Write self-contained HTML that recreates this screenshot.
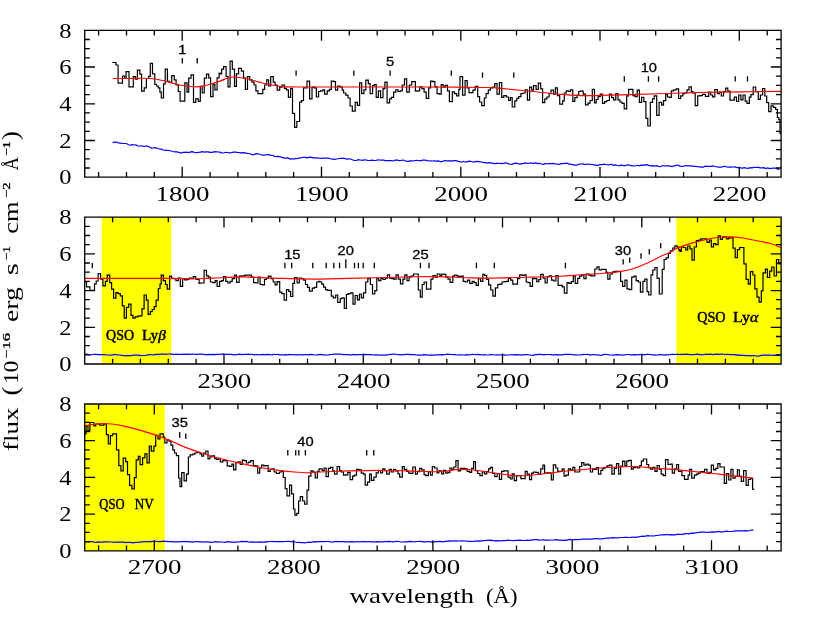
<!DOCTYPE html><html><head><meta charset="utf-8"><title>spectrum</title><style>html,body{margin:0;padding:0;background:#fff}svg{display:block;will-change:transform}</style></head><body><svg width="830" height="621" viewBox="0 0 830 621">
<rect width="830" height="621" fill="#fff"/>
<rect x="101.7" y="217.1" width="69.6" height="146.9" fill="#ff0"/>
<rect x="676.4" y="217.1" width="104.7" height="146.9" fill="#ff0"/>
<rect x="84.7" y="404" width="80" height="146.8" fill="#ff0"/>
<path d="M112.3 62.5H115.9V65H118.1V83.1H122.5V76H124.6V78.5H126.1V71.7H129V86.9H133.3V76.7H135.5V79.2H137.4V70.2H139.9V74.1H141.6V91.1H144.2V87.9H146.4V78.5H148.6V76.3H150.3V63.3H152.5V73.8H154.8V84.3H156.5V86H158.3V87.9H159.9V92.2H161.3V98H163.5V83.8H165.2V69.1H167.4V81.4H169.6V82.5H171.7V75.6H174.2V79.9H176.1V85H178.3V91.5H180.1V101.2H184.8V82.8H187V92.2H188.7V78.2H191V74.9H193.5V102.4H195.7V98.8H198.3V101.4H200.3V86.4H202.2V93H204.3V78.2H206.5V74.1H208.7V77.8H210.6V96.6H213V84.3H214.9V89.8H217.1V77.8H219.1V73H220V73.8H221.7V69.1H223.6V66.6H226.1V76.3H228V86.9H230.1V61.1H232.3V69.1H234.5V86.4H236.4V73.8H238.6V68.3H241.4V71.2H243.5V77.8H245.4V89.3H247.5V76.7H249.7V79.9H251.9V82.1H254.1V85H255.9V90.8H258V93.7H262.8V89.3H264.6V85H266.7V79.9H268.6V86H270.7V76.7H273.3V82.1H275.1V85H277.2V90.1H279.7V87.2H282V85H284.5V88.3H286.4V89.8H288.4V97.3H290.6V88.3H292.5V113.3H294.6V127.3H296.8V121.5H299.6V102.2H301.4V100.7H303.5V87.9H307V81.1H309.6V98.8H312V87.2H314.2V87.9H316.4V97H318.6V91.5H320.7V90.8H322.9V89.8H324.6V94.1H327.2V90.8H329.4V89.3H331.3V81.1H333.8V81.7H335.5V90.1H337.7V86H340V86.9H342.2V90.1H343.6V93H345.8V95.1H348V98H350.1V106H352.3V111.1H355.2V102.4H357.4V105.3H359.6V82.8H361.7V93.7H363.9V89.8H365.8V80.2H368.3V83.6H370.1V93.7H372.6V85.7H374.3V84.6H376.2V97.3H378.4V90.8H380.6V97.6H383V88.6H384.9V82.1H387.1V102.8H389.6V98.8H391.4V97.3H393.6V92.2H395.8V89.8H398V91.5H400.1V90.8H402.3V85H404.5V78.8H406.7V92.2H409.3V85H411.7V81.7H415.4V91.2H417.5V90.8H419.7V86.9H421.9V88.6H424.1V92.2H426.2V98.3H428.7V87.9H430.6V81.1H432.8V81.7H434.9V86.9H437.1V93.7H439.3V94.1H441.2V84.6H443.2V87.2H445.1V85.4H447.5V90.8H449.4V101.7H452.3V91.8H454.5V93.7H456.7V95.9H458.8V89.3H460V76.7H462.6V95.1H465.1V80.7H467.2V87.9H469V92.7H473V90.1H475.2V86.4H477.7V96.6H479.6V102H481.7V105.7H484.3V98H486.1V93.7H488.3V90.1H490.4V87.9H492.6V87.2H494.8V83.6H497V94.1H499.4V82.5H501.7V97.3H503.8V95.6H506.4V97H508.6V100.5H510.4V97.6H512.2V107H514.8V100.9H516.8V98.3H518.7V96.6H520.9V93.7H523V93H525.2V89.8H527.4V100.2H529.6V87.2H531.7V90.1H533.6V85.7H536.1V89.3H538.3V83.1H540.7V88.9H542.6V102.7H544.8V98.8H547V97H549.1V93.7H551V90.1H553.5V94.1H555.4V87.9H557.4V95.6H559.7V104.1H562.6V100.9H564.3V93H566.2V90.8H568.4V91.5H570.4V89.8H572.8V101.4H574.8V97.6H577.1V95.1H578.8V91.5H580V91.2H583.2V94.1H585.5V104.9H588V103.1H590.1V100.5H592.3V89.3H594.5V102.8H596.2V99.5H598.1V96.6H600.3V94.1H602.5V103.4H604.6V101.7H606.8V100.5H609.4V94.1H611.6V97.6H613.6V99.9H615.8V93.7H618V99.9H619.9V102H622V103.4H624.2V108.9H626.7V95.9H628.6V89.3H632.9V95.6H635.1V96.6H637.2V90.1H639.4V102.4H641.6V97.3H643.8V101.7H645.9V118.3H647.8V126H650.3V102.4H652.5V98.8H654.2V95.9H656.7V115.4H659.1V102.4H661.6V105.1H663.5V100.7H665.7V94.4H667.5V97H669.4V97.3H671.3V90.8H673.5V89.8H676.4V88.9H678.6V98.5H680.7V95.9H682.9V93.7H684.6V93H687V89.8H689V86.9H691.3V91.5H693V93H695.2V105.7H697.7V95.9H700V95.7H702.5V94.3H705.4V96.4H708.7V92.1H710.7V95H712.6V96.9H714.8V89.6H717.4V93.6H719.4V92.1H721.3V96H723.5V91.7H725.7V88.2H727.8V91.1H730V100.1H734.3V97.2H736.5V101.5H738.7V95H740.9V99.8H743V95H745.2V101.2H747V103.3H749.3V97.2H751V94.6H753.2V87H755.7V91.7H758.3V99.3H760.4V95H762.6V88.5H764.8V96H766.7V102.7H768.7V111.7H771V105.9H773.5V107.3H775.7V109.5H777.4V117.5H778.8V119.6H780V133.4H781" fill="none" stroke="#000" stroke-width="1.2" stroke-linejoin="miter"/>
<path d="M85.1 282H86.5V286.8H89.9V290.3H94.5V283.9H96.2V281H98.1V273.7H100.6V279.1H102.9V285.9H105.4V281.3H107.2V275.2H109.7V282.7H111.6V289.2H113.6V298.2H115.9V292.6H118V293.6H120.3V295.8H122.3V305.9H124.2V318.2H126.4V307.4H128.6V304.2H131V315.3H132.9V318.2H135.1V316.8H137.7V316.1H140.1V315.8H142V308.8H144.1V295H146.4V300.1H148.1V314.3H150.3V311.7H152.2V309.5H154.2V306.6H156.1V300.1H158.3V288.5H160V284.2H161.2V275.2H163.3V280.6H165.5V284.5H167.2V289.2H169.6V276.2H171.6V278.4H173.9V278.7H175.9V280.6H178.3V278.1H180.3V286.3H182.6V278.7H184.6V279.8H187.2V279.1H189.4V278.1H191.6V278.7H193.3V276.6H195.7V279.1H197.7V279.5H199.1V283.4H200V283H204.1V270.4H206.5V275.8H208.4V277.2H210.4V282H212.8V282.7H215.2V280.6H217.1V286.3H219.6V281.3H221.7V280.6H223.5V276.6H225.8V281.3H227.8V283H230.1V281.3H232.2V278.7H234.5V275.2H236.5V282.4H239.1V276.2H241.3V275.8H244.9V275.2H251.4V277.2H253.6V282.7H255.8V283H258V277.2H260.1V284.5H262.3V284.9H264.5V279.5H266.4V278.1H268.4V276.2H271V278.7H273.2V282H275.1V284.9H277.1V281.6H279.7V292.1H281.9V293.6H284.1V300.1H286.5V289.7H288.7V291.4H290.6V296.5H292.8V283.4H294.5V277.7H297.1V283H299.3V278.1H301.4V278.7H303.6V280.1H305.5V284.5H307.5V287.4H309.4V291.1H312.3V288.2H314.5V287.4H316.7V282H318.8V281.3H320V282H321.7V284.2H323.6V287.1H325.5V289.7H327.5V290.3H331.3V296.1H333.3V297.9H335.7V295H337.7V302.3H340.3V298.7H342V297.9H344.3V308.5H346.4V294.3H348.3V293.6H350.7V292.9H353V304.2H355.1V295.5H357.4V299.8H359.4V294H361.3V297.9H363.5V292.9H365.7V282H367.8V278.7H370.4V284.5H372.5V294H374.8V290.7H376.8V278.7H378.7V280.6H380.9V278.4H383V279.5H385.2V278.1H387.4V274.8H389.6V278.1H391.7V278.7H393.9V279.1H396.1V274.8H398.3V279.1H400.4V283.9H402.9V279.1H404.8V274.8H407V280.6H409.1V277.2H411V276.2H413.5V274H418.3V290H420.3V297.2H422.2V284.5H424.1V282H426.5V289.2H430.9V279.1H433V275.5H435.2V277.2H437.1V274H440V275.5H441.7V274H444.1V274.3H445.8V277.2H448V279.1H450.1V282.4H452.8V276.2H454.5V275.2H456.7V275.8H458.8V276.6H461V276.2H463.2V281.3H465.4V282H467.5V280.1H469.7V283.4H472.2V281.3H474.1V282.7H476.2V285.3H478.4V278.7H480.6V281.3H482.8V274.3H484.6V275.5H486.7V279.5H488.6V284.9H490.7V290H492.9V296.1H495.4V287.8H497.7V284.5H499.7V284.2H502V282H504.1V281.6H506.4V281.3H508.4V278.4H510.7V280.1H512.8V284.2H517.5V278.7H519.7V274.8H522.3V275.5H524.1V274.8H526.2V282H528.1V282.7H530.1V286.3H532.5V278.7H536.8V281.6H538.8V279.5H540.7V274.3H543.2V278.1H545.1V283H547.2V276.6H549.4V275.8H551.6V280.1H553.8V281H555.9V275.5H558.1V285.3H560V285.3H562.2V286.8H564.3V293.2H567V282.7H569V283.4H571.3V281.6H573.3V276.2H575.2V283.4H577.7V278.4H579.6V276.2H581.7V274.8H583.9V278.7H586.1V274H588.7V275.2H590.7V275.8H594.8V269H597V266.8H599.1V270H601.3V269.4H606.1V272.3H607.8V279.1H610V274H612.5V271.9H615.1V271.4H620.6V281.3H622.6V286.3H624.9V280.1H627V288.8H629.3V289.7H631.7V277.2H633.9V276.2H636.1V280.6H638.3V282H640.4V292.1H642.9V281.3H644.8V279.1H647V291.7H648.7V295H651V274.8H652.8V270H654.9V267.5H657.1V278.4H659.3V294H662.2V269.4H664.1V259.5H666.1V257.8H668.4V253.4H670.4V250.8H672.8V248.2H674.8V245.8H677.1V247.2H678.8V250.1H680V251.4H681.3V247H683.3V247.5H685.7V249.9H687.7V246H690V248.9H692V260.2H694.3V247H696.4V240.7H698.7V240.2H700.7V238.8H707V242.4H709.4V240.2H711.3V247H713.5V243.6H715.7V244.6H718.1V235.9H720.4V239.5H722.5V236.9H726.5V238.8H728.7V237.8H733V248.2H735.2V257.6H737.4V249.6H739.6V247.5H743.9V263.8H746.1V279.3H748.3V284.1H750.4V271.7H752.9V275H754.8V288.8H757V297.2H759.1V302.1H761.3V290.9H763V272.8H765.4V269.2H767.4V277.5H769.7V271.1H771.7V267H774.1V276H776.5V259.5H778.7V263.8H780.9" fill="none" stroke="#000" stroke-width="1.2" stroke-linejoin="miter"/>
<path d="M84.6 433.8H86.1V425.9H88V430.9H89.9V422.5H93.8V425.9H95.7V424H99.6V425.1H103.9V424H106.4V434.6H108.3V444H110.4V435.6H112.6V433.8H116.5V449.8H118.8V465.7H120.9V470.8H123.2V458.2H125.7V461.7H127.5V474.7H129.6V485.3H131.9V488.9H134.3V477.6H136.2V459.9H138.3V456.3H140.1V464.6H142.6V457.8H144.9V453.8H147V462.8H149.3V446.2H151.3V451.2H153.9V446.2H155.7V435.3H158V438.9H160V433.8H163.3V437H164.8V442.8H167V439.9H169.1V441.1H171V445.1H172.8V449.8H174.5V453H176.4V455.6H178.6V478H180V486.7H181.7V472.7H184.1V480.9H186.5V474.1H188.4V457H190.1V454.9H192.8V454.1H194.8V453H197.1V452.4H200V453.9H201.7V456.1H203.6V453.2H205.8V451H208V459H209.9V456.8H211.9V455.8H214.5V458.3H216.2V459.3H218.6V458.3H220.3V461.9H222.9V460.1H224.9V460.7H227.2V465.9H229.7V466.5H231.9V464.1H233.6V469.9H235.9V462.6H238V461.9H240.3V464.5H242.3V460.1H244.2V460.7H246.4V463H248.6V462.2H250.7V460.7H253.3V465.5H255.4V465.9H257.7V473.2H259.7V468H261.6V465.1H263.8V465.9H265.9V465.5H268.1V471.3H270.3V469.4H272.2V468.8H274.2V472H276.5V473.5H279.4V472H281.4V471.3H283.3V477.5H285.2V488.7H287V495.9H289.6V485.1H291.6V493.8H293.5V509H294.9V515.2H296.8V513.3H298.6V501H300.3V496.7H302.6V501H304.6V504.2H307V490.1H308.7V476.1H310.9V470.9H313V472H315.2V477.8H317.4V471.3H319.1V468.8H320V468.8H322.2V470.6H324.1V468H326.1V476.7H328.4V468.4H330.4V467.4H332.8V470.9H334.5V474.2H337.1V466.5H339.6V470.6H341.4V472H343.5V475.2H345.8V474.9H347.8V472.3H350.1V479.6H352.6V476.1H354.5V475.2H356.5V469.4H358.8V469.9H361.3V473.2H363.5V474.2H365.2V485.1H367.5V482.2H369.6V474.2H371.4V480.4H373.9V477.1H376.2V472.8H378.3V470.6H380.6V472.8H382.6V468.8H384.9V470.6H386.7V474.2H389.3V469.4H391.3V472H393.6V469.4H395.7V470.9H398V473.8H399.7V477.1H402.3V466.5H404.3V469.4H406.7V471.3H408.7V473.2H411V473.5H412.8V467H415.4V474.2H417.4V471.7H419.7V468.4H421.7V469.9H424.1V474.6H425.8V475.7H428.4V471.7H430.4V475.2H432.3V466.5H434.5V468H437.1V472.8H438.8V470.9H440V470.9H441.7V473.8H443.6V470.3H445.8V473.2H448V472.3H449.9V468H451.9V469.4H453.8V467H455.9V460.7H458.1V470.9H460.6V468.4H464.9V468.8H467.2V471.3H469.7V472.3H471.6V468.4H473.6V461.6H475.5V470.6H477.7V473.5H479.9V475.7H482.3V472H484.6V473.8H486.7V471.7H488.6V468.8H490.4V467.4H492.5V473.5H494.8V476.7H497.2V473.5H499.4V479.3H501.6V471.3H503.8V470.9H508.1V477.1H510.3V479H512.2V473.8H514.2V480.7H516.5V475.7H520.9V478.6H525.2V471.3H527.2V474.2H529.6V479.6H531.6V473.2H533.5V472H535.7V472.3H538.3V474.2H540.7V468.8H542.9V465.1H544.6V473.2H547V472.8H551.3V480H553.3V464.8H555.7V468H557.7V471.3H560V471.3H562.2V468.8H564.1V476.1H566.1V475.2H568.4V468.8H570.4V469.9H572.8V467.4H574.8V472H579.6V466.5H581.7V462.6H583.9V465.1H586.1V464.1H588.3V465.1H590.4V472H592.6V468.8H594.5V469.4H596.5V467.7H598.4V474.2H600.9V470.3H602.8V468.4H604.9V467.4H607.1V465.9H609.3V465.1H611.9V474.2H614.3V468.4H616.5V463.6H618.7V474.2H620.6V466.2H622.6V461.2H624.9V465.9H626.7V461.2H628.8V460.4H631.3V469.1H633.2V467.7H635.4V467H637.5V468H639.7V465.5H641.4V461.2H643.3V459H646.7V464.5H648.7V467.7H650.6V469.1H652.8V467.4H654.9V471.3H657.1V465.5H659.3V469.4H661.2V474.2H663.2V475.7H665.5V459.7H668V464.5H670.1V464.1H672.3V473.2H674.5V468.8H676.7V464.5H678.6V471.3H680V471.3H681.9V475.7H684.5V479.3H688.1V475.2H689.6V469.4H691.7V478.1H694.3V475.2H696.4V474.2H698.3V473.2H700.4V471.7H704.5V469.4H707V473.5H709.4V472.3H711.3V465.1H713.5V469.9H715.7V468.4H717.8V463.6H720V467H724.3V483.3H726.5V473.5H728.7V480H730.9V469.4H733V478.1H735.2V476.4H737.4V469.9H739.3V476.1H741.3V481.4H743.6V470.6H746.1V485.4H748.3V479.3H750.4V478.6H752.6V489.4H754.3" fill="none" stroke="#000" stroke-width="1.2" stroke-linejoin="miter"/>
<path d="M112.6 142.6L114.5 142.2L116.5 142.2L118.4 143L120.4 143.2L122.3 143.5L124.3 143.5L126.2 143.5L128.2 144.5L130.1 145.2L132.1 144.6L134 145L136 144.9L137.9 146L139.9 146L141.8 145.9L143.8 146.5L145.7 146.1L147.7 146L149.6 147.3L151.6 148.1L153.5 148L155.5 147.6L157.4 148.3L159.4 149L161.3 149.2L163.3 150L165.2 150.3L167.2 150.4L169.1 150.5L171.1 151L173 151.5L175 151.9L176.9 151.9L178.9 152.3L180.8 153L182.8 152.4L184.7 152.3L186.7 152.2L188.6 152.7L190.6 151.9L192.5 151.7L194.5 152.5L196.4 152.7L198.4 152.3L200.3 152.1L202.3 151.7L204.2 152.1L206.2 151.9L208.1 151.9L210.1 152.4L212 152.3L214 151.9L215.9 151.7L217.9 152L219.8 152.1L221.8 152.9L223.7 153L225.7 152.3L227.6 152.5L229.6 152.9L231.5 152.6L233.5 152.2L235.4 152.1L237.4 152.4L239.3 152.6L241.3 152.8L243.2 152.6L245.2 152.9L247.1 153.3L249.1 153.5L251 154.3L253 154.8L254.9 154.2L256.9 153.7L258.8 154L260.7 154.5L262.7 155.2L264.6 155.2L266.6 154.6L268.5 154.7L270.5 155.3L272.4 155.3L274.4 156.3L276.3 156.6L278.3 156.3L280.2 156.8L282.2 157.4L284.1 158.1L286.1 158.2L288 157.9L290 159.1L291.9 158.9L293.9 158.9L295.8 158.6L297.8 158.3L299.7 157.8L301.7 157.7L303.6 157.4L305.6 157.3L307.5 157.8L309.5 157.2L311.4 157.3L313.4 157.8L315.3 157.8L317.3 157.8L319.2 158.1L321.2 158.3L323.1 158.2L325.1 158L327 158.1L329 158.3L330.9 159L332.9 159.2L334.8 159.4L336.8 159L338.7 158.5L340.7 158.4L342.6 158.4L344.6 158.4L346.5 159.2L348.5 158.9L350.4 159L352.4 159.8L354.3 160.3L356.3 160.5L358.2 159.7L360.2 160L362.1 160.3L364.1 159.8L366 160L368 160.4L369.9 160.5L371.9 160.2L373.8 160.4L375.8 160.5L377.7 159.9L379.7 160L381.6 160.2L383.6 160.2L385.5 160.7L387.5 160.6L389.4 160.5L391.4 160.7L393.3 161L395.3 160.1L397.2 160.2L399.2 160.6L401.1 160.4L403.1 160L405 160.8L407 161.3L408.9 161.3L410.9 160.6L412.8 161L414.8 160.6L416.7 160.4L418.7 160.5L420.6 160.9L422.6 160.2L424.5 160.1L426.5 160.4L428.4 161L430.4 160.8L432.3 161L434.3 160.9L436.2 161.2L438.2 160.9L440.1 161.6L442.1 161.6L444 160.8L446 160.5L447.9 161.1L449.9 160.7L451.8 161.2L453.8 160.7L455.7 160.7L457.7 161.2L459.6 161.6L461.6 162.2L463.5 161.4L465.5 162.2L467.4 161.6L469.4 161.1L471.3 161.5L473.3 162.2L475.2 161.7L477.2 161.4L479.1 161.6L481.1 162L483 162.4L485 162.7L486.9 163.1L488.9 162.7L490.8 162.9L492.8 163.3L494.7 163.7L496.7 163.2L498.6 163.5L500.6 163.4L502.5 163.7L504.5 163.1L506.4 162.8L508.4 163.9L510.3 164.2L512.3 164.3L514.2 163.4L516.2 163.2L518.1 163.7L520.1 164.1L522 163.7L524 163.3L525.9 162.9L527.9 163.5L529.8 163.1L531.8 163.1L533.7 163.4L535.7 162.9L537.6 163.6L539.6 163.3L541.5 164L543.5 164.3L545.4 163.5L547.4 164L549.3 163.6L551.3 163.6L553.2 163.3L555.2 163.8L557.1 164.1L559.1 164.3L561 163.7L563 163.7L564.9 163.3L566.9 163.2L568.8 164.2L570.8 164.1L572.7 164.7L574.7 165.1L576.6 165.2L578.6 164.3L580.5 164L582.5 163.8L584.4 164.3L586.4 164.3L588.3 164L590.3 164.5L592.2 164.4L594.2 164.9L596.1 165.3L598.1 165.3L600 164.5L602 164.6L603.9 164.1L605.9 164.5L607.8 165L609.8 164.6L611.7 164.3L613.7 165.3L615.6 164.9L617.6 165.5L619.5 165.8L621.5 164.9L623.4 165.6L625.4 165.7L627.3 164.8L629.3 165.1L631.2 165.7L633.2 165.9L635.1 166L637.1 165.3L639 165.9L641 165.1L642.9 165.4L644.9 164.9L646.8 164.7L648.8 165.4L650.7 165.8L652.7 165.7L654.6 166.2L656.6 165.7L658.5 166.3L660.5 166.7L662.4 165.6L664.4 166L666.3 165.8L668.3 165.9L670.2 166.1L672.2 166.6L674.1 165.8L676.1 165.3L678 165L680 166.1L681.9 166.4L683.9 166.1L685.8 165.5L687.8 165.8L689.7 165.8L691.7 165.8L693.6 166.4L695.6 166.3L697.5 166.6L699.5 166.8L701.4 167.2L703.4 167.1L705.3 166.2L707.3 166.4L709.2 166.3L711.2 166.3L713.1 165.9L715.1 166.5L717 166.9L719 167.1L720.9 167.2L722.9 166.6L724.8 166.3L726.8 166.9L728.7 167.2L730.7 167.1L732.6 167L734.6 166.9L736.5 167.4L738.5 167.9L740.4 167.9L742.4 168.2L744.3 167.7L746.3 168.1L748.2 168.3L750.2 167.7L752.1 167.9L754.1 167.4L756 167.5L758 167.1L759.9 167.8L761.9 167.9L763.8 167.6L765.8 168.5L767.7 167.9L769.7 168.6L771.6 168.3L773.6 168L775.5 168.1L777.5 168.9L779.4 169.6" fill="none" stroke="#00f" stroke-width="1.2"/>
<path d="M84.7 354.1L86.6 354L88.6 354.6L90.5 354.9L92.5 354.5L94.4 354.4L96.4 354.4L98.3 354.7L100.3 354.7L102.2 354.7L104.2 354.7L106.1 355L108.1 355L110 355.1L112 354.9L113.9 354.6L115.9 354.5L117.8 354.8L119.8 355L121.7 355.3L123.7 355.6L125.6 355.8L127.6 355.6L129.5 355.6L131.5 355.6L133.4 355.2L135.4 355.2L137.3 355.2L139.3 355.4L141.2 355.6L143.2 355.5L145.1 355.5L147.1 355.2L149 354.7L151 354.6L152.9 355L154.9 354.6L156.8 354.4L158.8 354.4L160.7 354.2L162.7 354.2L164.6 354.1L166.6 354.4L168.5 354L170.5 353.9L172.4 354.4L174.4 354.3L176.3 354.2L178.3 354.4L180.2 354.4L182.2 354.4L184.1 354.1L186.1 354.3L188 354.1L190 354.4L191.9 354.2L193.9 354L195.8 354.3L197.8 354.3L199.7 354.1L201.7 354.1L203.6 354.3L205.6 354.6L207.5 354.7L209.5 354.4L211.4 354.7L213.4 354.3L215.3 354.6L217.3 354.2L219.2 354.5L221.2 354.2L223.1 354.2L225.1 354.3L227 354.4L229 354.3L230.9 354.4L232.9 354.6L234.8 354.8L236.8 354.6L238.7 354.2L240.7 354.3L242.6 354.7L244.6 354.4L246.5 354.3L248.5 354.1L250.4 354.5L252.4 354.3L254.3 354.8L256.3 354.5L258.2 354.7L260.2 354.8L262.1 354.4L264.1 354.7L266 354.6L268 354.3L269.9 354.6L271.9 354.8L273.8 354.4L275.8 354.5L277.7 354.4L279.7 354.8L281.6 354.8L283.6 354.9L285.5 354.6L287.5 354.9L289.4 354.4L291.4 354.8L293.3 354.5L295.3 354.9L297.2 354.9L299.2 354.5L301.1 354.8L303.1 354.9L305 354.6L307 354.7L308.9 354.9L310.9 354.4L312.8 354.7L314.8 355L316.7 354.9L318.7 354.6L320.6 354.4L322.6 354.8L324.5 354.8L326.5 355L328.4 354.8L330.4 354.5L332.3 354.4L334.3 354.2L336.2 354.2L338.2 354.1L340.1 354.2L342.1 354.4L344 354.7L346 354.5L347.9 354.7L349.9 354.9L351.8 354.8L353.8 354.4L355.7 354.8L357.7 354.6L359.6 354.7L361.6 354.6L363.5 354.9L365.5 354.4L367.4 354.7L369.4 354.6L371.3 354.6L373.3 355L375.2 354.8L377.2 354.9L379.1 355.1L381.1 355.2L383 355.2L385 355.2L386.9 354.8L388.9 354.7L390.8 354.3L392.8 354.2L394.7 354L396.7 354.5L398.6 354.6L400.6 354.8L402.5 354.7L404.5 354.6L406.4 354.4L408.4 354.4L410.3 354.7L412.3 354.7L414.2 354.7L416.2 355L418.1 355.2L420.1 355L422 355.1L424 354.7L425.9 354.9L427.9 355.1L429.8 355.1L431.8 355.1L433.7 355.1L435.7 354.9L437.6 354.8L439.6 354.9L441.5 354.7L443.5 354.9L445.4 354.5L447.4 354.2L449.3 354.3L451.3 354.5L453.2 354.6L455.2 354.6L457.1 355L459.1 354.9L461 354.8L463 355L464.9 355.1L466.9 354.7L468.8 354.8L470.8 354.7L472.7 354.4L474.7 354.5L476.6 354.7L478.6 354.4L480.5 354.6L482.5 355L484.4 354.7L486.4 355L488.3 355L490.3 354.6L492.2 354.5L494.2 355L496.1 354.9L498.1 354.9L500 354.8L502 355L503.9 354.8L505.9 355.1L507.8 355L509.8 355L511.7 354.5L513.7 354.9L515.6 354.6L517.6 354.9L519.5 354.8L521.5 354.8L523.4 354.8L525.4 354.6L527.3 354.7L529.3 355L531.2 355.2L533.2 355.3L535.1 354.7L537.1 354.6L539 354.3L541 354.4L542.9 354.9L544.9 354.7L546.8 354.5L548.8 354.5L550.7 354.6L552.7 354.8L554.6 354.8L556.6 354.6L558.5 354.8L560.5 354.8L562.4 354.8L564.4 354.4L566.3 354.4L568.3 354.3L570.2 354.3L572.2 354.7L574.1 354.9L576.1 354.8L578 355L580 354.9L581.9 354.7L583.9 354.4L585.8 354.5L587.8 354.4L589.7 354.9L591.7 354.9L593.6 354.5L595.6 354.9L597.5 354.9L599.5 355.2L601.4 355.3L603.4 354.7L605.3 354.4L607.3 354.5L609.2 354.9L611.2 355L613.1 355.1L615.1 354.8L617 354.7L619 354.8L620.9 354.8L622.9 355.1L624.8 354.9L626.8 354.5L628.7 354.5L630.7 354.9L632.6 354.9L634.6 354.7L636.5 354.9L638.5 354.6L640.4 354.7L642.4 354.6L644.3 354.8L646.3 354.4L648.2 354.4L650.2 354.5L652.1 354.9L654.1 354.9L656 355.2L658 354.9L659.9 354.5L661.9 354.9L663.8 354.8L665.8 354.8L667.7 354.8L669.7 354.6L671.6 354.3L673.6 354.3L675.5 354.5L677.5 354.2L679.4 354.6L681.4 354.4L683.3 354.4L685.3 354.3L687.2 354.2L689.2 354.6L691.1 354.5L693.1 354.6L695 354.5L697 354.2L698.9 354.3L700.9 354.8L702.8 354.7L704.8 354.5L706.7 354.2L708.7 354.3L710.6 354.1L712.6 354.7L714.5 354.3L716.5 354.2L718.4 354.3L720.4 354.1L722.3 354L724.3 354.5L726.2 354.3L728.2 354.3L730.1 354.7L732.1 354.6L734 354.7L736 355.1L737.9 354.9L739.9 355.3L741.8 355.2L743.8 355.4L745.7 355.6L747.7 355.5L749.6 355.6L751.6 355.9L753.5 355.5L755.5 355.9L757.4 356.1L759.4 355.8L761.3 355.3L763.3 355.2L765.2 355.1L767.2 355.2L769.1 355L771.1 355.2L773 355.3L775 355.1L776.9 355.3L778.9 355.4L780.8 354.9" fill="none" stroke="#00f" stroke-width="1.2"/>
<path d="M84.7 541.8L86.6 541.7L88.6 541.8L90.5 541.7L92.5 541.7L94.4 542.1L96.4 542.3L98.3 541.9L100.3 542.1L102.2 542.2L104.2 541.8L106.1 541.9L108.1 541.8L110 542L112 542L113.9 542.3L115.9 542.2L117.8 542L119.8 542.1L121.7 542.1L123.7 542.1L125.6 542.6L127.6 542.3L129.5 542.4L131.5 542.6L133.4 542.9L135.4 542.4L137.3 542.3L139.3 542.1L141.2 541.8L143.2 541.8L145.1 541.5L147.1 541.8L149 541.5L151 541.6L152.9 541.3L154.9 541.1L156.8 541.5L158.8 541.7L160.7 541.6L162.7 541.1L164.6 541.3L166.6 541.3L168.5 541.6L170.5 541.6L172.4 541.7L174.4 541.9L176.3 541.8L178.3 541.8L180.2 541.6L182.2 541.7L184.1 541.5L186.1 541.6L188 541.5L190 541.7L191.9 542.2L193.9 541.9L195.8 541.7L197.8 541.6L199.7 541.8L201.7 541.8L203.6 542.2L205.6 541.9L207.5 541.9L209.5 542.1L211.4 542.4L213.4 542L215.3 541.6L217.3 542.1L219.2 541.8L221.2 542L223.1 542.2L225.1 542.3L227 541.9L229 541.7L230.9 542.1L232.9 542L234.8 542.3L236.8 541.9L238.7 542L240.7 541.7L242.6 541.4L244.6 541.6L246.5 541.4L248.5 541.8L250.4 542.1L252.4 541.9L254.3 542.2L256.3 542.2L258.2 542.1L260.2 541.9L262.1 542.1L264.1 542.3L266 541.7L268 541.9L269.9 541.5L271.9 541.3L273.8 541.6L275.8 541.7L277.7 541.7L279.7 541.6L281.6 541.6L283.6 541.6L285.5 541.5L287.5 541.3L289.4 541.4L291.4 541.6L293.3 541.4L295.3 542L297.2 542.5L299.2 542.4L301.1 542.7L303.1 542.6L305 542.8L307 542.5L308.9 542.2L310.9 542.3L312.8 541.9L314.8 541.6L316.7 541.9L318.7 541.7L320.6 541.7L322.6 541.5L324.5 541.7L326.5 541.5L328.4 541.4L330.4 541.9L332.3 542.1L334.3 541.7L336.2 541.3L338.2 541.7L340.1 541.7L342.1 541.6L344 541.7L346 541.8L347.9 541.8L349.9 541.8L351.8 541.7L353.8 541.8L355.7 541.8L357.7 541.5L359.6 541.9L361.6 541.7L363.5 541.5L365.5 541.7L367.4 541.9L369.4 541.5L371.3 541.8L373.3 541.9L375.2 541.8L377.2 541.6L379.1 541.9L381.1 541.9L383 541.9L385 541.5L386.9 541.6L388.9 541.4L390.8 541.7L392.8 541.8L394.7 541.6L396.7 541.3L398.6 541.5L400.6 541.8L402.5 542L404.5 541.8L406.4 541.9L408.4 541.6L410.3 541.3L412.3 541.7L414.2 541.8L416.2 541.5L418.1 541.5L420.1 541.3L422 541.6L424 541.9L425.9 541.9L427.9 541.5L429.8 541.8L431.8 541.8L433.7 541.8L435.7 541.7L437.6 541.7L439.6 541.3L441.5 541.6L443.5 541.9L445.4 541.3L447.4 541.1L449.3 540.9L451.3 541.1L453.2 540.9L455.2 540.8L457.1 541.2L459.1 541L461 540.9L463 540.9L464.9 541L466.9 541.2L468.8 541.3L470.8 541.4L472.7 541.5L474.7 541.2L476.6 541.2L478.6 540.9L480.5 541.2L482.5 540.7L484.4 540.7L486.4 540.4L488.3 540.3L490.3 540.2L492.2 540.4L494.2 540.9L496.1 540.6L498.1 540.9L500 540.9L502 540.6L503.9 540.6L505.9 540.6L507.8 540.2L509.8 540.3L511.7 540.5L513.7 540.6L515.6 540.3L517.6 540.3L519.5 540.1L521.5 540.3L523.4 540.5L525.4 540.4L527.3 540.1L529.3 540.4L531.2 540.1L533.2 539.8L535.1 539.7L537.1 539.7L539 540.2L541 540L542.9 539.8L544.9 540.2L546.8 540.2L548.8 540.2L550.7 540L552.7 540L554.6 539.9L556.6 539.7L558.5 540.1L560.5 540.2L562.4 540.3L564.4 540.2L566.3 540.3L568.3 539.6L570.2 539.3L572.2 539.8L574.1 539.6L576.1 539.6L578 539.6L580 539.5L581.9 539.2L583.9 539.1L585.8 539.1L587.8 539.2L589.7 539.1L591.7 539.2L593.6 538.9L595.6 538.6L597.5 538.6L599.5 538.8L601.4 538.8L603.4 538.6L605.3 538.3L607.3 538L609.2 538.1L611.2 537.8L613.1 537.7L615.1 537.8L617 537.8L619 537.7L620.9 537.5L622.9 537.5L624.8 537.3L626.8 537.3L628.7 537.5L630.7 537.3L632.6 537L634.6 537.3L636.5 537.1L638.5 536.9L640.4 536.5L642.4 536.1L644.3 536.3L646.3 535.9L648.2 535.7L650.2 536L652.1 535.9L654.1 536L656 535.5L658 535.3L659.9 535L661.9 534.8L663.8 534.8L665.8 534.6L667.7 534.6L669.7 534.9L671.6 534.6L673.6 534.8L675.5 534.8L677.5 534.2L679.4 534.4L681.4 534.4L683.3 534.3L685.3 533.6L687.2 533.7L689.2 533.8L691.1 533.2L693.1 533.4L695 532.9L697 532.7L698.9 532.4L700.9 532.1L702.8 532.2L704.8 532L706.7 532.5L708.7 532.1L710.6 532.1L712.6 531.9L714.5 532.2L716.5 531.8L718.4 531.4L720.4 531.8L722.3 531.8L724.3 531.6L726.2 531.2L728.2 531.4L730.1 531.5L732.1 531.5L734 531.1L736 530.8L737.9 530.9L739.9 530.9L741.8 530.8L743.8 530.8L745.7 530.6L747.7 530.8L749.6 530.5L751.6 530L753.5 530.1" fill="none" stroke="#00f" stroke-width="1.2"/>
<path d="M112.8 78.5C115.5 78.5 122.7 78.5 129 78.5C135.3 78.5 144.7 78 150.7 78.5C156.8 78.9 160.4 80 165.2 81.1C170 82.2 174.9 84.1 179.7 85C184.5 85.9 190.6 86.5 194.2 86.7C197.8 87 198.8 86.9 201.4 86.4C204.1 86 207.1 85.2 210.1 84.3C213.2 83.4 217.1 82.1 220 81.1C222.9 80.1 224.8 78.9 227.2 78.2C229.7 77.5 230.9 76.9 234.5 77C238.1 77.2 244.9 78.4 249 79.2C253.1 80 256 81.3 259.1 82.1C262.3 82.9 264.7 83.6 267.8 84.3C271 84.9 275.1 85.6 278 86C280.9 86.4 279.4 86.7 285.2 86.9C291 87.1 296.4 87 312.8 87C329.1 87.1 364.4 87 383.5 87C402.5 87 414.2 87 427 87C439.7 87.1 449.7 87.1 460 87.2C470.3 87.2 481.7 87.2 489 87.5C496.2 87.7 497.4 88.1 503.5 88.6C509.5 89.2 516.8 90 525.2 90.8C533.7 91.6 545.1 92.9 554.2 93.7C563.3 94.5 570.9 95.3 580 95.6C589.1 95.8 599.3 95.3 609 95.1C618.6 95 625.9 94.8 638 94.4C650 94.1 671.1 93.3 681.4 93C691.8 92.7 693 92.7 700 92.5C707 92.4 714.7 92.2 723.5 92.1C732.2 92 742.9 91.8 752.5 91.7C762.1 91.5 776.3 91.4 781 91.4" fill="none" stroke="#f00" stroke-width="1.15"/>
<path d="M84.6 278.4C91.1 278.4 109.8 278.4 123.5 278.4C137.2 278.4 154.2 278.3 167 278.4C179.7 278.4 190.9 278.8 200 278.7C209.1 278.5 214.5 277.9 221.7 277.7C229 277.4 235 276.9 243.5 276.9C251.9 277 259.7 277.7 272.5 278.1C285.2 278.4 307.2 279.1 320 279.1C332.8 279.1 339.3 278.6 349 278.4C358.6 278.1 367.1 277.9 378 277.7C388.8 277.4 403.9 277 414.2 276.8C424.5 276.6 431.4 276.5 440 276.6C448.6 276.8 457.6 277.4 466.1 277.7C474.5 277.9 480.6 278.2 490.7 278.1C500.9 278 515.4 277.5 527 277.2C538.5 276.9 550.9 276.6 560 276.2C569.1 275.8 574.5 275.2 581.7 274.8C589 274.3 597 273.9 603.5 273.3C610 272.7 616 272.1 620.9 271.4C625.7 270.7 628.1 270.3 632.5 269C636.8 267.6 642.1 265.3 647 263.2C651.8 261 657.6 257.7 661.4 255.9C665.3 254.1 667.4 253.8 670 252.5C672.6 251.2 673.6 249.8 677.2 248.2C680.9 246.6 686.9 244.6 691.7 243.1C696.6 241.7 701.4 240.5 706.2 239.5C711.1 238.5 716.6 237.8 720.7 237.3C724.8 236.9 727.2 236.8 730.9 236.9C734.5 237 738.1 237.4 742.5 238C746.8 238.7 752.1 239.7 757 240.7C761.8 241.6 767.5 242.7 771.4 243.8C775.4 245 779.3 246.9 780.9 247.5" fill="none" stroke="#f00" stroke-width="1.15"/>
<path d="M84.6 425.9C87 425.5 94.3 424 98.8 423.7C103.4 423.4 107.3 423.5 111.9 424C116.5 424.5 121.3 425.4 126.4 426.6C131.4 427.8 137 429.4 142.3 430.9C147.6 432.5 153.4 434.3 158.3 436C163.1 437.7 167 439.3 171.3 441.1C175.7 442.9 179.6 445 184.3 446.9C189.1 448.8 194.3 450.6 200 452.5C205.7 454.4 212.6 456.6 218.8 458.3C225.1 460 231.2 461.2 237.7 462.6C244.2 464.1 251.7 465.7 258 467C264.3 468.2 269.3 469 275.4 469.9C281.4 470.7 288.6 471.5 294.2 472C299.8 472.5 304.4 472.8 308.7 472.8C313 472.8 313.3 472.3 320 472C326.7 471.7 339.3 471.2 349 470.9C358.6 470.6 368.3 470.3 378 470.3C387.6 470.3 396.6 470.6 407 470.9C417.3 471.1 431.4 472 440 471.7C448.6 471.5 452.8 469.7 458.8 469.4C464.9 469.2 469.7 469.6 476.2 470.3C482.8 471 491.4 472.6 498 473.5C504.5 474.4 510 475.4 515.4 475.7C520.7 475.9 524.5 475.6 529.9 475.2C535.2 474.9 542.2 474.1 547.2 473.5C552.3 472.9 554.7 472.3 560 471.7C565.3 471.1 572.1 470.5 578.8 469.9C585.6 469.2 594.1 468.5 600.6 468C607.1 467.5 612.7 467.2 618 467C623.3 466.7 627.6 466.4 632.5 466.5C637.3 466.6 642.1 467 647 467.4C651.8 467.8 657.6 468.6 661.4 468.8C665.3 469.1 665 468.7 670 469.1C675 469.5 684.5 470.6 691.7 471.3C699 472 706.2 472.7 713.5 473.5C720.7 474.3 728.6 475.3 735.2 476.1C741.9 476.9 750.3 477.8 753.3 478.1" fill="none" stroke="#f00" stroke-width="1.15"/>
<path d="M84.7 30.3H781.1V177.2H84.7ZM84.7 168h5.2M781.1 168h-5.2M84.7 158.8h5.2M781.1 158.8h-5.2M84.7 149.7h5.2M781.1 149.7h-5.2M84.7 140.5h10.3M781.1 140.5h-10.3M84.7 131.3h5.2M781.1 131.3h-5.2M84.7 122.1h5.2M781.1 122.1h-5.2M84.7 112.9h5.2M781.1 112.9h-5.2M84.7 103.8h10.3M781.1 103.8h-10.3M84.7 94.6h5.2M781.1 94.6h-5.2M84.7 85.4h5.2M781.1 85.4h-5.2M84.7 76.2h5.2M781.1 76.2h-5.2M84.7 67h10.3M781.1 67h-10.3M84.7 57.8h5.2M781.1 57.8h-5.2M84.7 48.7h5.2M781.1 48.7h-5.2M84.7 39.5h5.2M781.1 39.5h-5.2M98.6 177.2v-5.2M98.6 30.3v5.2M126.5 177.2v-5.2M126.5 30.3v5.2M154.3 177.2v-5.2M154.3 30.3v5.2M182.2 177.2v-10.5M182.2 30.3v10.5M210.1 177.2v-5.2M210.1 30.3v5.2M237.9 177.2v-5.2M237.9 30.3v5.2M265.8 177.2v-5.2M265.8 30.3v5.2M293.6 177.2v-5.2M293.6 30.3v5.2M321.5 177.2v-10.5M321.5 30.3v10.5M349.3 177.2v-5.2M349.3 30.3v5.2M377.2 177.2v-5.2M377.2 30.3v5.2M405 177.2v-5.2M405 30.3v5.2M432.9 177.2v-5.2M432.9 30.3v5.2M460.8 177.2v-10.5M460.8 30.3v10.5M488.6 177.2v-5.2M488.6 30.3v5.2M516.5 177.2v-5.2M516.5 30.3v5.2M544.3 177.2v-5.2M544.3 30.3v5.2M572.2 177.2v-5.2M572.2 30.3v5.2M600 177.2v-10.5M600 30.3v10.5M627.9 177.2v-5.2M627.9 30.3v5.2M655.7 177.2v-5.2M655.7 30.3v5.2M683.6 177.2v-5.2M683.6 30.3v5.2M711.5 177.2v-5.2M711.5 30.3v5.2M739.3 177.2v-10.5M739.3 30.3v10.5M767.2 177.2v-5.2M767.2 30.3v5.2M84.7 217.1H781.1V364H84.7ZM84.7 354.8h5.2M781.1 354.8h-5.2M84.7 345.6h5.2M781.1 345.6h-5.2M84.7 336.5h5.2M781.1 336.5h-5.2M84.7 327.3h10.3M781.1 327.3h-10.3M84.7 318.1h5.2M781.1 318.1h-5.2M84.7 308.9h5.2M781.1 308.9h-5.2M84.7 299.7h5.2M781.1 299.7h-5.2M84.7 290.6h10.3M781.1 290.6h-10.3M84.7 281.4h5.2M781.1 281.4h-5.2M84.7 272.2h5.2M781.1 272.2h-5.2M84.7 263h5.2M781.1 263h-5.2M84.7 253.8h10.3M781.1 253.8h-10.3M84.7 244.6h5.2M781.1 244.6h-5.2M84.7 235.5h5.2M781.1 235.5h-5.2M84.7 226.3h5.2M781.1 226.3h-5.2M112.6 364v-5.2M112.6 217.1v5.2M140.4 364v-5.2M140.4 217.1v5.2M168.3 364v-5.2M168.3 217.1v5.2M196.1 364v-5.2M196.1 217.1v5.2M224 364v-10.5M224 217.1v10.5M251.8 364v-5.2M251.8 217.1v5.2M279.7 364v-5.2M279.7 217.1v5.2M307.5 364v-5.2M307.5 217.1v5.2M335.4 364v-5.2M335.4 217.1v5.2M363.3 364v-10.5M363.3 217.1v10.5M391.1 364v-5.2M391.1 217.1v5.2M419 364v-5.2M419 217.1v5.2M446.8 364v-5.2M446.8 217.1v5.2M474.7 364v-5.2M474.7 217.1v5.2M502.5 364v-10.5M502.5 217.1v10.5M530.4 364v-5.2M530.4 217.1v5.2M558.3 364v-5.2M558.3 217.1v5.2M586.1 364v-5.2M586.1 217.1v5.2M614 364v-5.2M614 217.1v5.2M641.8 364v-10.5M641.8 217.1v10.5M669.7 364v-5.2M669.7 217.1v5.2M697.5 364v-5.2M697.5 217.1v5.2M725.4 364v-5.2M725.4 217.1v5.2M753.2 364v-5.2M753.2 217.1v5.2M84.7 404H781.1V550.8H84.7ZM84.7 541.6h5.2M781.1 541.6h-5.2M84.7 532.4h5.2M781.1 532.4h-5.2M84.7 523.3h5.2M781.1 523.3h-5.2M84.7 514.1h10.3M781.1 514.1h-10.3M84.7 504.9h5.2M781.1 504.9h-5.2M84.7 495.8h5.2M781.1 495.8h-5.2M84.7 486.6h5.2M781.1 486.6h-5.2M84.7 477.4h10.3M781.1 477.4h-10.3M84.7 468.2h5.2M781.1 468.2h-5.2M84.7 459h5.2M781.1 459h-5.2M84.7 449.9h5.2M781.1 449.9h-5.2M84.7 440.7h10.3M781.1 440.7h-10.3M84.7 431.5h5.2M781.1 431.5h-5.2M84.7 422.4h5.2M781.1 422.4h-5.2M84.7 413.2h5.2M781.1 413.2h-5.2M98.6 550.8v-5.2M98.6 404v5.2M126.5 550.8v-5.2M126.5 404v5.2M154.3 550.8v-10.5M154.3 404v10.5M182.2 550.8v-5.2M182.2 404v5.2M210.1 550.8v-5.2M210.1 404v5.2M237.9 550.8v-5.2M237.9 404v5.2M265.8 550.8v-5.2M265.8 404v5.2M293.6 550.8v-10.5M293.6 404v10.5M321.5 550.8v-5.2M321.5 404v5.2M349.3 550.8v-5.2M349.3 404v5.2M377.2 550.8v-5.2M377.2 404v5.2M405 550.8v-5.2M405 404v5.2M432.9 550.8v-10.5M432.9 404v10.5M460.8 550.8v-5.2M460.8 404v5.2M488.6 550.8v-5.2M488.6 404v5.2M516.5 550.8v-5.2M516.5 404v5.2M544.3 550.8v-5.2M544.3 404v5.2M572.2 550.8v-10.5M572.2 404v10.5M600 550.8v-5.2M600 404v5.2M627.9 550.8v-5.2M627.9 404v5.2M655.7 550.8v-5.2M655.7 404v5.2M683.6 550.8v-5.2M683.6 404v5.2M711.5 550.8v-10.5M711.5 404v10.5M739.3 550.8v-5.2M739.3 404v5.2M767.2 550.8v-5.2M767.2 404v5.2" fill="none" stroke="#000" stroke-width="1.3"/>
<path d="M182.3 57.9V63.5M197.2 57.9V63.5M296.1 70.5V75.8M353.8 70.5V75.8M390.1 70.5V75.8M451.3 70.5V75.8M482.5 72.4V77.8M513.8 72.4V77.8M624.3 76.3V81.8M648.4 76.3V81.8M658.6 76.3V81.8M735.2 76.2V81.6M747.5 76.2V81.6M92.3 262.9V268.2M284.9 262.7V268.2M291.7 262.7V268.2M312.8 262.7V268.2M326.2 262.7V268.2M333.8 262.7V268.2M339.6 262.7V268.2M354.5 262.7V268.2M358.4 262.7V268.2M363.2 262.7V268.2M374.3 262.7V268.2M420.4 262.7V268.2M429 262.7V268.2M476.4 262.7V268.2M494.3 262.7V268.2M565.4 262.7V268.2M345.8 259.2V268.2M623.2 259.2V264.6M629.7 257.4V262.7M641 253.3V258.8M649.3 249.1V254.5M660.7 242.9V248.2M179.7 432.1V437.9M185.8 433.5V439M287.8 450V455.4M295.7 450V455.4M298.8 450V455.4M305.4 450V455.4M366.7 450V455.4M373.8 450V455.4" fill="none" stroke="#000" stroke-width="1.3"/>
<g font-family="'Liberation Serif',serif" fill="#000">
<text transform="translate(71.6,184.4) scale(1.14,1)" font-size="21.5" text-anchor="end">0</text>
<text transform="translate(71.6,147.7) scale(1.14,1)" font-size="21.5" text-anchor="end">2</text>
<text transform="translate(71.6,111) scale(1.14,1)" font-size="21.5" text-anchor="end">4</text>
<text transform="translate(71.6,74.2) scale(1.14,1)" font-size="21.5" text-anchor="end">6</text>
<text transform="translate(71.6,37.5) scale(1.14,1)" font-size="21.5" text-anchor="end">8</text>
<text transform="translate(182.5,200.8) scale(1.27,1)" font-size="21.2" text-anchor="middle">1800</text>
<text transform="translate(321.8,200.8) scale(1.27,1)" font-size="21.2" text-anchor="middle">1900</text>
<text transform="translate(461.1,200.8) scale(1.27,1)" font-size="21.2" text-anchor="middle">2000</text>
<text transform="translate(600.3,200.8) scale(1.27,1)" font-size="21.2" text-anchor="middle">2100</text>
<text transform="translate(739.6,200.8) scale(1.27,1)" font-size="21.2" text-anchor="middle">2200</text>
<text transform="translate(71.6,371.2) scale(1.14,1)" font-size="21.5" text-anchor="end">0</text>
<text transform="translate(71.6,334.5) scale(1.14,1)" font-size="21.5" text-anchor="end">2</text>
<text transform="translate(71.6,297.8) scale(1.14,1)" font-size="21.5" text-anchor="end">4</text>
<text transform="translate(71.6,261) scale(1.14,1)" font-size="21.5" text-anchor="end">6</text>
<text transform="translate(71.6,224.3) scale(1.14,1)" font-size="21.5" text-anchor="end">8</text>
<text transform="translate(224.3,387.6) scale(1.27,1)" font-size="21.2" text-anchor="middle">2300</text>
<text transform="translate(363.6,387.6) scale(1.27,1)" font-size="21.2" text-anchor="middle">2400</text>
<text transform="translate(502.8,387.6) scale(1.27,1)" font-size="21.2" text-anchor="middle">2500</text>
<text transform="translate(642.1,387.6) scale(1.27,1)" font-size="21.2" text-anchor="middle">2600</text>
<text transform="translate(71.6,558) scale(1.14,1)" font-size="21.5" text-anchor="end">0</text>
<text transform="translate(71.6,521.3) scale(1.14,1)" font-size="21.5" text-anchor="end">2</text>
<text transform="translate(71.6,484.6) scale(1.14,1)" font-size="21.5" text-anchor="end">4</text>
<text transform="translate(71.6,447.9) scale(1.14,1)" font-size="21.5" text-anchor="end">6</text>
<text transform="translate(71.6,411.2) scale(1.14,1)" font-size="21.5" text-anchor="end">8</text>
<text transform="translate(154.6,574.4) scale(1.27,1)" font-size="21.2" text-anchor="middle">2700</text>
<text transform="translate(293.9,574.4) scale(1.27,1)" font-size="21.2" text-anchor="middle">2800</text>
<text transform="translate(433.2,574.4) scale(1.27,1)" font-size="21.2" text-anchor="middle">2900</text>
<text transform="translate(572.5,574.4) scale(1.27,1)" font-size="21.2" text-anchor="middle">3000</text>
<text transform="translate(711.8,574.4) scale(1.27,1)" font-size="21.2" text-anchor="middle">3100</text>
<text x="349.5" y="603.3" font-size="22" textLength="124.5" lengthAdjust="spacingAndGlyphs">wavelength</text>
<text x="486" y="603.3" font-size="22" textLength="31.5" lengthAdjust="spacingAndGlyphs">(Å)</text>
<g transform="translate(17.8,450.5) rotate(-90)">
<text x="-0.5" y="0" font-size="22" textLength="43.5" lengthAdjust="spacingAndGlyphs">flux</text>
<text x="55" y="0" font-size="23" textLength="9" lengthAdjust="spacingAndGlyphs">(</text>
<text x="66.8" y="0" font-size="21" textLength="23" lengthAdjust="spacingAndGlyphs">10</text>
<text x="91.6" y="-8" font-size="11" textLength="25.8" lengthAdjust="spacingAndGlyphs" stroke="#000" stroke-width="0.3">−16</text>
<text x="128.4" y="0" font-size="22" textLength="35" lengthAdjust="spacingAndGlyphs">erg</text>
<text x="175.2" y="0" font-size="22" textLength="12.2" lengthAdjust="spacingAndGlyphs">s</text>
<text x="190.3" y="-8" font-size="11" textLength="14.2" lengthAdjust="spacingAndGlyphs" stroke="#000" stroke-width="0.3">−1</text>
<text x="216.8" y="0" font-size="22" textLength="32.3" lengthAdjust="spacingAndGlyphs">cm</text>
<text x="252.5" y="-8" font-size="11" textLength="15.6" lengthAdjust="spacingAndGlyphs" stroke="#000" stroke-width="0.3">−2</text>
<text x="280.2" y="0" font-size="22" textLength="13" lengthAdjust="spacingAndGlyphs">Å</text>
<text x="294.5" y="-8" font-size="11" textLength="14.6" lengthAdjust="spacingAndGlyphs" stroke="#000" stroke-width="0.3">−1</text>
<text x="310.5" y="0" font-size="23" textLength="9" lengthAdjust="spacingAndGlyphs">)</text>
</g>
<text transform="translate(182.3,54.3) scale(1.13,1)" font-family="'Liberation Sans',sans-serif" font-size="13" text-anchor="middle" stroke="#000" stroke-width="0.3">1</text>
<text transform="translate(390,65.9) scale(1.13,1)" font-family="'Liberation Sans',sans-serif" font-size="13" text-anchor="middle" stroke="#000" stroke-width="0.3">5</text>
<text transform="translate(648.8,72.4) scale(1.13,1)" font-family="'Liberation Sans',sans-serif" font-size="13" text-anchor="middle" stroke="#000" stroke-width="0.3">10</text>
<text transform="translate(292.3,259.1) scale(1.13,1)" font-family="'Liberation Sans',sans-serif" font-size="13" text-anchor="middle" stroke="#000" stroke-width="0.3">15</text>
<text transform="translate(345.7,254.9) scale(1.13,1)" font-family="'Liberation Sans',sans-serif" font-size="13" text-anchor="middle" stroke="#000" stroke-width="0.3">20</text>
<text transform="translate(420.4,258.8) scale(1.13,1)" font-family="'Liberation Sans',sans-serif" font-size="13" text-anchor="middle" stroke="#000" stroke-width="0.3">25</text>
<text transform="translate(623,254.9) scale(1.13,1)" font-family="'Liberation Sans',sans-serif" font-size="13" text-anchor="middle" stroke="#000" stroke-width="0.3">30</text>
<text transform="translate(179.7,427.3) scale(1.13,1)" font-family="'Liberation Sans',sans-serif" font-size="13" text-anchor="middle" stroke="#000" stroke-width="0.3">35</text>
<text transform="translate(305.4,445.7) scale(1.13,1)" font-family="'Liberation Sans',sans-serif" font-size="13" text-anchor="middle" stroke="#000" stroke-width="0.3">40</text>
<text x="697.2" y="321.8" font-size="14" textLength="28.4" lengthAdjust="spacingAndGlyphs" stroke="#000" stroke-width="0.45">QSO</text>
<text x="733" y="321.8" font-size="14" textLength="25.5" lengthAdjust="spacingAndGlyphs" stroke="#000" stroke-width="0.45">Ly<tspan font-style="italic">α</tspan></text>
<text x="106.1" y="339.9" font-size="14" textLength="28" lengthAdjust="spacingAndGlyphs" stroke="#000" stroke-width="0.45">QSO</text>
<text x="142" y="339.9" font-size="14" textLength="23.8" lengthAdjust="spacingAndGlyphs" stroke="#000" stroke-width="0.45">Ly<tspan font-style="italic">β</tspan></text>
<text x="99.3" y="508.6" font-size="14" textLength="25.2" lengthAdjust="spacingAndGlyphs" stroke="#000" stroke-width="0.45">QSO</text>
<text x="134.7" y="508.6" font-size="14" textLength="19" lengthAdjust="spacingAndGlyphs" stroke="#000" stroke-width="0.45">NV</text>
</g></svg></body></html>
